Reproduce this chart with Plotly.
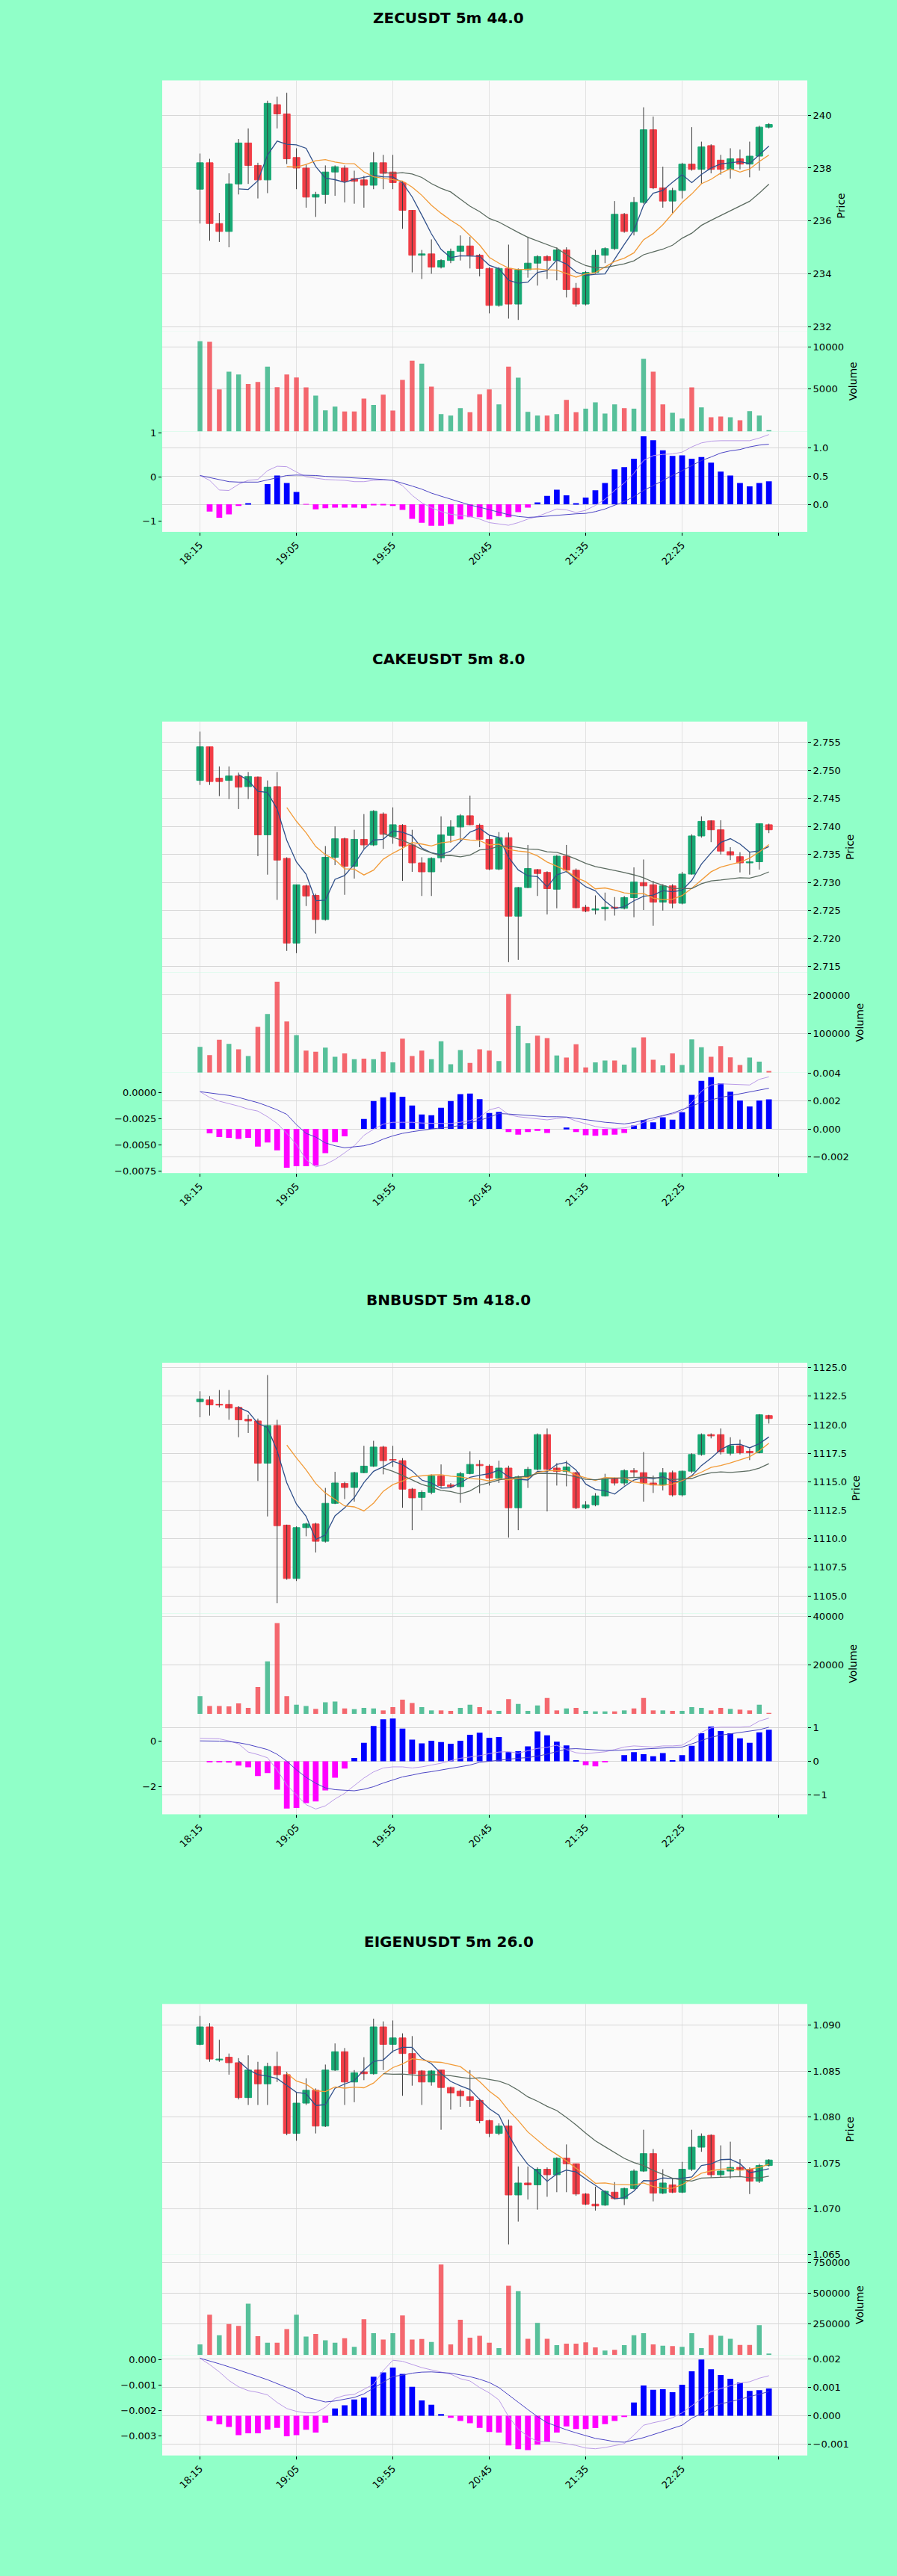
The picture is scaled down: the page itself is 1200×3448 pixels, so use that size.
import pandas as pd
import plotly.graph_objects as go

# 4 stacked mplfinance-like panels: candles + MA, volume, MACD

W, H = 1200, 3448
PANEL_H = 862

tick_pos = [0, 10, 20, 30, 40, 50, 60]
tick_text = ["18:15", "19:05", "19:55", "20:45", "21:35", "22:25", ""]

# ---------------- ZECUSDT ----------------
zec_open = [237.2, 238.2, 235.9, 235.6, 237.4, 238.95, 238.1, 237.55, 240.4, 240.05,
            238.4, 238.0, 236.9, 237.0, 237.85, 238.0, 237.6, 237.55, 237.35, 238.2,
            237.85, 237.45, 236.4, 234.7, 234.75, 234.25, 234.5, 234.85, 235.05, 234.7,
            234.2, 232.8, 234.2, 232.85, 234.15, 234.4, 234.65, 234.5, 234.9, 233.45,
            232.85, 234.05, 234.7, 234.95, 236.25, 235.6, 236.7, 239.45, 237.25, 236.75,
            237.15, 238.15, 237.95, 238.85, 238.3, 237.95, 238.35, 238.15, 238.45, 239.55]
zec_high = [238.55, 238.35, 236.3, 237.8, 239.1, 239.5, 238.2, 240.55, 240.7, 240.85,
            238.75, 238.15, 237.1, 238.1, 238.1, 238.1, 237.9, 237.7, 238.6, 238.5,
            238.5, 237.5, 236.4, 234.9, 235.3, 234.55, 234.95, 235.45, 235.4, 234.75,
            234.25, 234.25, 235.1, 234.2, 235.4, 234.7, 234.7, 235.0, 235.0, 233.65,
            234.1, 234.9, 235.0, 236.75, 236.3, 236.9, 240.3, 239.95, 238.05, 237.25,
            238.2, 239.55, 239.0, 238.9, 238.5, 238.75, 238.7, 239.0, 239.6, 239.7]
zec_low = [235.9, 235.25, 235.2, 235.0, 237.0, 237.4, 236.85, 237.05, 239.5, 238.15,
           237.2, 236.5, 236.15, 236.65, 236.95, 236.7, 236.65, 236.5, 237.2, 237.2,
           237.2, 235.7, 234.05, 233.8, 234.0, 234.2, 234.4, 234.5, 234.2, 233.9,
           232.5, 232.75, 232.3, 232.25, 233.85, 233.55, 233.8, 233.75, 233.1, 232.75,
           232.8, 234.0, 234.4, 234.9, 235.55, 235.45, 236.65, 237.2, 236.5, 236.3,
           236.85, 237.9, 237.4, 237.8, 237.75, 237.6, 237.95, 237.65, 237.9, 239.5]
zec_close = [238.2, 235.9, 235.6, 237.4, 238.95, 238.1, 237.55, 240.45, 240.05, 238.35,
             238.0, 236.9, 237.0, 237.85, 238.05, 237.5, 237.5, 237.35, 238.2, 237.8,
             237.45, 236.4, 234.7, 234.75, 234.25, 234.5, 234.85, 235.05, 234.7, 234.2,
             232.8, 234.2, 232.85, 234.15, 234.4, 234.65, 234.5, 234.9, 233.4, 232.85,
             234.05, 234.7, 234.95, 236.25, 235.6, 236.7, 239.45, 237.25, 236.75, 237.15,
             238.15, 237.95, 238.8, 237.95, 237.95, 238.35, 238.15, 238.45, 239.55, 239.65]
zec_vol = [10640, 10590, 4970, 7060, 6730, 5590, 5850, 7650, 5230, 6730,
           6380, 5200, 4230, 2500, 2940, 2350, 2350, 3880, 3120, 4350,
           2470, 6090, 8350, 8000, 5290, 2060, 1880, 2760, 2260, 4380,
           4970, 3200, 7650, 6350, 2320, 1880, 1880, 2060, 3730, 2260,
           2700, 3440, 2120, 3200, 2760, 2700, 8580, 7060, 3200, 2200,
           1530, 5200, 2850, 1680, 1760, 1680, 1320, 2410, 1880, 150]
zec_hist = [0, -0.13, -0.24, -0.18, -0.03, 0.01, 0.0, 0.36, 0.51, 0.38,
            0.22, -0.005, -0.09, -0.07, -0.06, -0.06, -0.06, -0.07, -0.02, -0.02,
            -0.03, -0.10, -0.26, -0.33, -0.38, -0.38, -0.35, -0.27, -0.23, -0.23,
            -0.27, -0.21, -0.23, -0.14, -0.06, 0.035, 0.15, 0.26, 0.16, 0.02,
            0.12, 0.25, 0.38, 0.62, 0.66, 0.81, 1.21, 1.14, 0.96, 0.86,
            0.87, 0.81, 0.84, 0.74, 0.58, 0.51, 0.38, 0.32, 0.38, 0.41]
zec_dif = [0.03, -0.08, -0.30, -0.31, -0.17, -0.08, -0.06, 0.14, 0.24, 0.23,
           0.11, 0.0, -0.03, -0.06, -0.07, -0.08, -0.11, -0.11, -0.08, -0.07,
           -0.08, -0.20, -0.42, -0.59, -0.70, -0.79, -0.85, -0.87, -0.90, -0.96,
           -1.04, -1.07, -1.10, -1.04, -0.96, -0.90, -0.82, -0.73, -0.75, -0.81,
           -0.76, -0.65, -0.51, -0.31, -0.14, 0.08, 0.37, 0.48, 0.51, 0.52,
           0.56, 0.68, 0.77, 0.81, 0.82, 0.82, 0.82, 0.82, 0.88, 0.96]
zec_dea = [0.03, -0.02, -0.07, -0.11, -0.12, -0.12, -0.12, -0.07, -0.02, 0.03,
           0.04, 0.04, 0.03, 0.01, 0.0, -0.01, -0.03, -0.04, -0.05, -0.06,
           -0.08, -0.14, -0.21, -0.28, -0.37, -0.44, -0.51, -0.58, -0.64, -0.69,
           -0.75, -0.81, -0.86, -0.90, -0.92, -0.91, -0.89, -0.87, -0.86, -0.84,
           -0.83, -0.79, -0.73, -0.65, -0.56, -0.45, -0.31, -0.20, -0.08, 0.03,
           0.14, 0.25, 0.37, 0.45, 0.54, 0.59, 0.62, 0.68, 0.72, 0.74]

# ---------------- CAKEUSDT ----------------
cake_open = [2.7482, 2.7542, 2.7486, 2.7482, 2.7490, 2.7471, 2.7488, 2.7385, 2.7471, 2.7343,
             2.7192, 2.7294, 2.7277, 2.7234, 2.7345, 2.7378, 2.7329, 2.7377, 2.7367, 2.7422,
             2.7382, 2.7402, 2.7367, 2.7335, 2.7319, 2.7344, 2.7384, 2.7399, 2.7419, 2.7402,
             2.7377, 2.7324, 2.7380, 2.7240, 2.7291, 2.7323, 2.7318, 2.7288, 2.7347, 2.7322,
             2.7256, 2.7251, 2.7253, 2.7256, 2.7254, 2.7273, 2.7300, 2.7296, 2.7265, 2.7294,
             2.7263, 2.7315, 2.7383, 2.7410, 2.7394, 2.7355, 2.7346, 2.7335, 2.7337, 2.7403]
cake_high = [2.7569, 2.7542, 2.7507, 2.7507, 2.7496, 2.7497, 2.7489, 2.7482, 2.7497, 2.7345,
             2.7296, 2.7296, 2.7280, 2.7365, 2.7400, 2.7380, 2.7394, 2.7422, 2.7429, 2.7425,
             2.7434, 2.7404, 2.7394, 2.7345, 2.7345, 2.7418, 2.7411, 2.7422, 2.7455, 2.7405,
             2.7385, 2.7390, 2.7389, 2.7292, 2.7367, 2.7324, 2.7320, 2.7349, 2.7367, 2.7325,
             2.7260, 2.7277, 2.7282, 2.7274, 2.7276, 2.7327, 2.7341, 2.7303, 2.7297, 2.7297,
             2.7319, 2.7386, 2.7418, 2.7411, 2.7411, 2.7363, 2.7354, 2.7354, 2.7405, 2.7405]
cake_low = [2.7474, 2.7474, 2.7454, 2.7449, 2.7431, 2.7449, 2.7347, 2.7314, 2.7269, 2.7178,
            2.7174, 2.7258, 2.7209, 2.7232, 2.7331, 2.7278, 2.7307, 2.7360, 2.7365, 2.7360,
            2.7369, 2.7303, 2.7319, 2.7276, 2.7276, 2.7336, 2.7371, 2.7374, 2.7402, 2.7363,
            2.7322, 2.7322, 2.7158, 2.7162, 2.7290, 2.7276, 2.7243, 2.7254, 2.7318, 2.7254,
            2.7247, 2.7243, 2.7232, 2.7241, 2.7252, 2.7238, 2.7251, 2.7223, 2.7250, 2.7254,
            2.7261, 2.7314, 2.7380, 2.7372, 2.7350, 2.7340, 2.7318, 2.7314, 2.7323, 2.7388]
cake_close = [2.7542, 2.7480, 2.7480, 2.7490, 2.7470, 2.7489, 2.7385, 2.7470, 2.7340, 2.7192,
              2.7296, 2.7276, 2.7234, 2.7345, 2.7378, 2.7329, 2.7377, 2.7367, 2.7427, 2.7386,
              2.7403, 2.7365, 2.7335, 2.7319, 2.7343, 2.7385, 2.7399, 2.7419, 2.7403, 2.7377,
              2.7324, 2.7380, 2.7240, 2.7291, 2.7325, 2.7316, 2.7289, 2.7347, 2.7322, 2.7255,
              2.7249, 2.7253, 2.7256, 2.7254, 2.7273, 2.7301, 2.7294, 2.7265, 2.7294, 2.7263,
              2.7315, 2.7383, 2.7409, 2.7394, 2.7356, 2.7349, 2.7335, 2.7337, 2.7405, 2.7394]
cake_vol = [66700, 45500, 84600, 74400, 60300, 43000, 118000, 151300, 234600, 132000,
            96800, 57000, 53800, 64700, 41000, 49400, 34600, 35900, 34600, 53800,
            26300, 87800, 43000, 57000, 34600, 80800, 21800, 58300, 25000, 60300,
            57000, 30100, 202600, 121100, 76300, 95500, 89100, 44200, 39100, 73100,
            13500, 26300, 31400, 31400, 20500, 64700, 91000, 33300, 18600, 49400,
            19900, 85900, 65400, 41000, 68600, 39700, 19900, 39100, 28200, 4500]
cake_hist = [0, -0.00032, -0.00059, -0.00064, -0.00073, -0.00064, -0.00127, -0.00098, -0.00154, -0.00279,
             -0.00268, -0.00268, -0.00264, -0.00175, -0.00095, -0.00054, 0.0, 0.00071, 0.00200, 0.00227,
             0.00263, 0.00232, 0.00168, 0.00104, 0.00098, 0.00152, 0.00200, 0.00250, 0.00254, 0.00214,
             0.00114, 0.00123, -0.00023, -0.00041, -0.00023, -0.00014, -0.00029, 0.0, 0.0001, -0.00023,
             -0.00046, -0.00050, -0.00046, -0.00041, -0.00029, 0.00025, 0.00063, 0.00048, 0.00084, 0.00066,
             0.00120, 0.00245, 0.00346, 0.00373, 0.00329, 0.00268, 0.00205, 0.00161, 0.00205, 0.00213]
cake_dif = [0.0001, -0.00045, -0.00081, -0.00104, -0.00128, -0.00157, -0.00176, -0.0023, -0.00294, -0.00389,
            -0.00496, -0.00639, -0.0071, -0.00686, -0.00639, -0.00575, -0.00508, -0.00408, -0.00349, -0.00301,
            -0.00283, -0.00283, -0.00283, -0.0029, -0.00294, -0.00294, -0.00294, -0.00283, -0.00266, -0.00235,
            -0.00164, -0.0014, -0.0021, -0.0023, -0.0024, -0.0025, -0.0026, -0.00247, -0.00235, -0.00271,
            -0.00299, -0.00323, -0.00337, -0.00342, -0.00337, -0.00318, -0.00283, -0.00259, -0.00223, -0.00204,
            -0.00176, -0.00093, 0.00014, 0.00074, 0.00085, 0.00081, 0.00074, 0.00074, 0.00128, 0.00152]
cake_dea = [0.0001, -0.00002, -0.00014, -0.00026, -0.00045, -0.00069, -0.00095, -0.00128, -0.00164, -0.00207,
            -0.00306, -0.00389, -0.00425, -0.0048, -0.00508, -0.00527, -0.00515, -0.00508, -0.00484, -0.00444,
            -0.00413, -0.00389, -0.00373, -0.00358, -0.00347, -0.00337, -0.00328, -0.00313, -0.0029, -0.00264,
            -0.00235, -0.00199, -0.00204, -0.00211, -0.00218, -0.00228, -0.0023, -0.0023, -0.00233, -0.00245,
            -0.00259, -0.00271, -0.00283, -0.0029, -0.00299, -0.00285, -0.00264, -0.00242, -0.00218, -0.00195,
            -0.00164, -0.00128, -0.00093, -0.00069, -0.00045, -0.00028, -0.0001, 0.00007, 0.00026, 0.00043]

# ---------------- BNBUSDT ----------------
bnb_open = [1122.02, 1122.17, 1121.8, 1121.78, 1121.52, 1120.48, 1120.33, 1116.63, 1119.93, 1111.2,
            1106.52, 1110.98, 1111.3, 1109.78, 1113.11, 1114.85, 1114.5, 1115.8, 1116.37, 1118.04,
            1116.95, 1116.85, 1114.35, 1113.63, 1114.07, 1115.5, 1114.72, 1114.57, 1115.72, 1116.52,
            1116.37, 1115.33, 1116.2, 1112.72, 1115.43, 1116.09, 1119.13, 1116.2, 1115.9, 1115.8,
            1112.72, 1112.98, 1113.76, 1115.28, 1114.89, 1115.98, 1115.8, 1114.89, 1114.72, 1115.8,
            1113.85, 1115.93, 1117.39, 1119.13, 1119.13, 1117.5, 1118.15, 1117.67, 1117.54, 1120.8]
bnb_high = [1122.93, 1122.5, 1123.04, 1123.04, 1121.63, 1120.87, 1120.54, 1124.35, 1120.43, 1111.24,
            1111.09, 1111.41, 1111.41, 1114.46, 1115.87, 1115.0, 1115.87, 1118.15, 1118.59, 1118.15,
            1118.15, 1117.07, 1114.46, 1114.24, 1115.65, 1116.52, 1114.89, 1115.87, 1117.67, 1116.9,
            1116.52, 1116.85, 1116.41, 1115.54, 1116.3, 1119.24, 1119.67, 1116.63, 1116.85, 1115.87,
            1113.3, 1114.0, 1115.7, 1115.37, 1116.09, 1116.2, 1117.6, 1115.54, 1116.2, 1115.98,
            1115.98, 1117.5, 1119.24, 1119.24, 1119.67, 1118.9, 1118.7, 1117.9, 1120.93, 1120.87]
bnb_low = [1120.65, 1120.8, 1121.52, 1120.43, 1118.9, 1119.28, 1115.07, 1111.96, 1104.35, 1106.41,
           1106.3, 1110.22, 1108.8, 1109.67, 1113.04, 1113.48, 1113.26, 1115.76, 1116.3, 1115.65,
           1116.3, 1112.72, 1110.76, 1112.5, 1113.9, 1114.46, 1114.46, 1113.15, 1115.65, 1114.0,
           1114.67, 1114.89, 1110.11, 1110.76, 1114.46, 1116.0, 1112.4, 1114.67, 1114.6, 1112.6,
           1112.6, 1112.85, 1113.7, 1114.67, 1114.67, 1115.4, 1113.26, 1114.02, 1114.24, 1113.7,
           1113.7, 1115.76, 1117.28, 1118.8, 1117.39, 1117.3, 1117.4, 1116.9, 1117.5, 1120.1]
bnb_close = [1122.24, 1121.74, 1121.72, 1121.46, 1120.43, 1120.33, 1116.63, 1119.93, 1111.15, 1106.52,
             1110.98, 1111.3, 1109.78, 1113.11, 1114.89, 1114.5, 1115.8, 1116.37, 1118.04, 1116.85,
             1116.9, 1114.35, 1113.59, 1114.07, 1115.5, 1114.67, 1114.57, 1115.72, 1116.52, 1116.41,
             1115.33, 1116.2, 1112.72, 1115.43, 1116.09, 1119.13, 1116.09, 1115.9, 1116.3, 1112.72,
             1112.98, 1113.76, 1115.28, 1114.89, 1115.98, 1115.85, 1114.89, 1114.72, 1115.8, 1113.85,
             1115.93, 1117.39, 1119.13, 1119.02, 1117.61, 1118.15, 1117.54, 1117.54, 1120.87, 1120.54]
bnb_vol = [7300, 3250, 3250, 3050, 4260, 2440, 11060, 21520, 37250, 7300,
           3750, 3250, 2030, 4770, 5080, 2230, 1930, 2440, 2230, 1420,
           2740, 5790, 4470, 2740, 1420, 1420, 1220, 2440, 3750, 2740,
           1420, 1220, 6090, 4060, 1220, 3450, 6500, 1420, 2230, 2440,
           1220, 1020, 1020, 1020, 1420, 2230, 6500, 1420, 1420, 1220,
           1220, 2740, 2440, 1420, 2440, 2030, 1730, 1420, 3750, 400]
bnb_hist = [0, -0.03, -0.03, -0.04, -0.13, -0.18, -0.44, -0.35, -0.85, -1.41,
            -1.39, -1.25, -1.20, -0.87, -0.49, -0.22, 0.10, 0.55, 1.05, 1.25,
            1.27, 0.97, 0.64, 0.53, 0.61, 0.57, 0.52, 0.61, 0.79, 0.85,
            0.70, 0.72, 0.27, 0.30, 0.44, 0.89, 0.77, 0.58, 0.47, 0.01,
            -0.12, -0.15, -0.03, 0.0, 0.18, 0.27, 0.21, 0.15, 0.24, 0.03,
            0.18, 0.46, 0.83, 1.03, 0.90, 0.83, 0.68, 0.55, 0.86, 0.94]
bnb_dif = [0.12, 0.12, 0.10, 0.01, -0.12, -0.48, -0.59, -0.73, -1.27, -1.92,
           -2.36, -2.79, -2.98, -2.84, -2.54, -2.29, -1.95, -1.62, -1.35, -1.18,
           -1.13, -1.13, -1.18, -1.13, -1.05, -0.97, -0.86, -0.75, -0.70, -0.64,
           -0.55, -0.48, -0.46, -0.53, -0.42, -0.32, -0.27, -0.18, -0.37, -0.51,
           -0.55, -0.51, -0.47, -0.37, -0.26, -0.21, -0.24, -0.26, -0.21, -0.21,
           -0.18, 0.07, 0.39, 0.58, 0.61, 0.61, 0.61, 0.64, 0.88, 1.01]
bnb_dea = [0.01, 0.01, 0.0, -0.02, -0.07, -0.15, -0.26, -0.37, -0.58, -0.88,
           -1.26, -1.59, -1.85, -2.05, -2.13, -2.16, -2.18, -2.11, -2.0, -1.84,
           -1.70, -1.57, -1.49, -1.40, -1.34, -1.27, -1.21, -1.13, -1.05, -0.93,
           -0.88, -0.83, -0.79, -0.75, -0.72, -0.66, -0.57, -0.47, -0.35, -0.33,
           -0.36, -0.38, -0.41, -0.41, -0.39, -0.37, -0.35, -0.32, -0.30, -0.29,
           -0.26, -0.12, 0.03, 0.17, 0.26, 0.32, 0.37, 0.42, 0.50, 0.61]

# ---------------- EIGENUSDT ----------------
eigen_open = [1.0879, 1.0898, 1.0862, 1.0865, 1.0859, 1.0821, 1.0851, 1.0836, 1.0855, 1.0846,
              1.0782, 1.0815, 1.0829, 1.0790, 1.0851, 1.0871, 1.0838, 1.0849, 1.0847, 1.0898,
              1.0879, 1.0886, 1.0869, 1.0850, 1.0838, 1.0851, 1.0832, 1.0828, 1.0822, 1.0818,
              1.0796, 1.0782, 1.0790, 1.0715, 1.0728, 1.0726, 1.0743, 1.0737, 1.0755, 1.0749,
              1.0716, 1.0705, 1.0704, 1.0718, 1.0711, 1.0722, 1.0741, 1.0760, 1.0717, 1.0726,
              1.0718, 1.0743, 1.0767, 1.0780, 1.0737, 1.0741, 1.0745, 1.0743, 1.0730, 1.0747]
eigen_high = [1.0910, 1.0902, 1.0884, 1.0869, 1.0864, 1.0867, 1.0860, 1.0859, 1.0871, 1.0849,
              1.0827, 1.0842, 1.0831, 1.0857, 1.0880, 1.0875, 1.0851, 1.0865, 1.0907, 1.0904,
              1.0905, 1.0891, 1.0888, 1.0851, 1.0851, 1.0851, 1.0833, 1.0830, 1.0851, 1.0820,
              1.0797, 1.0793, 1.0797, 1.0746, 1.0746, 1.0745, 1.0745, 1.0756, 1.0770, 1.0749,
              1.0717, 1.0724, 1.0720, 1.0729, 1.0723, 1.0743, 1.0786, 1.0765, 1.0743, 1.0733,
              1.0751, 1.0786, 1.0782, 1.0781, 1.0769, 1.0773, 1.0754, 1.0745, 1.0749, 1.0754]
eigen_low = [1.0878, 1.0860, 1.0860, 1.0846, 1.0819, 1.0813, 1.0813, 1.0813, 1.0838, 1.0780,
             1.0774, 1.0813, 1.0782, 1.0789, 1.0850, 1.0813, 1.0816, 1.0840, 1.0846, 1.0851,
             1.0870, 1.0823, 1.0834, 1.0813, 1.0834, 1.0786, 1.0808, 1.0811, 1.0811, 1.0793,
             1.0778, 1.0780, 1.0661, 1.0686, 1.0710, 1.0699, 1.0713, 1.0718, 1.0718, 1.0714,
             1.0704, 1.0698, 1.0703, 1.0710, 1.0704, 1.0721, 1.0740, 1.0708, 1.0716, 1.0717,
             1.0717, 1.0741, 1.0762, 1.0734, 1.0734, 1.0733, 1.0735, 1.0716, 1.0728, 1.0746]
eigen_close = [1.0898, 1.0863, 1.0863, 1.0859, 1.0821, 1.0851, 1.0836, 1.0855, 1.0846, 1.0782,
               1.0815, 1.0829, 1.0790, 1.0851, 1.0871, 1.0838, 1.0848, 1.0847, 1.0898, 1.0879,
               1.0886, 1.0869, 1.0847, 1.0838, 1.0850, 1.0832, 1.0826, 1.0823, 1.0818, 1.0796,
               1.0782, 1.0790, 1.0715, 1.0728, 1.0726, 1.0743, 1.0737, 1.0755, 1.0749, 1.0716,
               1.0705, 1.0703, 1.0719, 1.0711, 1.0722, 1.0741, 1.0760, 1.0717, 1.0728, 1.0718,
               1.0743, 1.0767, 1.0779, 1.0737, 1.0741, 1.0745, 1.0743, 1.0730, 1.0747, 1.0753]
eigen_vol = [86000, 326000, 160000, 250000, 236000, 416000, 152000, 100000, 100000, 210000,
             326000, 150000, 170000, 120000, 100000, 136000, 66000, 290000, 176000, 126000,
             176000, 320000, 126000, 130000, 106000, 732000, 86000, 286000, 140000, 156000,
             100000, 56000, 560000, 516000, 132000, 260000, 132000, 80000, 92000, 92000,
             102000, 62000, 36000, 42000, 80000, 160000, 176000, 86000, 76000, 72000,
             66000, 176000, 56000, 162000, 156000, 132000, 82000, 82000, 242000, 12000]
eigen_hist = [0, -0.18e-3, -0.30e-3, -0.39e-3, -0.68e-3, -0.61e-3, -0.61e-3, -0.48e-3, -0.42e-3, -0.72e-3,
              -0.68e-3, -0.49e-3, -0.59e-3, -0.24e-3, 0.26e-3, 0.37e-3, 0.57e-3, 0.64e-3, 1.37e-3, 1.52e-3,
              1.69e-3, 1.47e-3, 1.02e-3, 0.54e-3, 0.39e-3, 0.06e-3, -0.07e-3, -0.18e-3, -0.26e-3, -0.42e-3,
              -0.57e-3, -0.59e-3, -1.04e-3, -1.17e-3, -1.20e-3, -1.01e-3, -0.90e-3, -0.59e-3, -0.37e-3, -0.46e-3,
              -0.46e-3, -0.43e-3, -0.29e-3, -0.18e-3, -0.03e-3, 0.47e-3, 1.06e-3, 0.91e-3, 0.93e-3, 0.83e-3,
              1.09e-3, 1.56e-3, 1.97e-3, 1.63e-3, 1.43e-3, 1.30e-3, 1.17e-3, 0.87e-3, 0.90e-3, 0.96e-3]
eigen_dif = [0.07e-3, -0.18e-3, -0.47e-3, -0.81e-3, -1.06e-3, -1.21e-3, -1.28e-3, -1.38e-3, -1.68e-3, -1.92e-3,
             -2.03e-3, -2.09e-3, -2.09e-3, -1.87e-3, -1.52e-3, -1.40e-3, -1.36e-3, -1.16e-3, -0.96e-3, -0.42e-3,
             -0.01e-3, -0.05e-3, -0.18e-3, -0.30e-3, -0.39e-3, -0.47e-3, -0.56e-3, -0.74e-3, -0.83e-3, -1.09e-3,
             -1.30e-3, -1.58e-3, -2.24e-3, -2.73e-3, -3.02e-3, -3.22e-3, -3.24e-3, -3.25e-3, -3.31e-3, -3.38e-3,
             -3.48e-3, -3.51e-3, -3.46e-3, -3.38e-3, -3.31e-3, -2.97e-3, -2.58e-3, -2.48e-3, -2.40e-3, -2.28e-3,
             -2.09e-3, -1.81e-3, -1.52e-3, -1.25e-3, -1.13e-3, -1.01e-3, -0.91e-3, -0.86e-3, -0.72e-3, -0.62e-3]
eigen_dea = [0.07e-3, -0.03e-3, -0.15e-3, -0.27e-3, -0.39e-3, -0.52e-3, -0.65e-3, -0.78e-3, -0.93e-3, -1.08e-3,
             -1.24e-3, -1.47e-3, -1.57e-3, -1.66e-3, -1.62e-3, -1.55e-3, -1.48e-3, -1.34e-3, -1.12e-3, -0.88e-3,
             -0.65e-3, -0.60e-3, -0.52e-3, -0.48e-3, -0.47e-3, -0.49e-3, -0.52e-3, -0.59e-3, -0.66e-3, -0.76e-3,
             -0.89e-3, -1.09e-3, -1.37e-3, -1.67e-3, -1.96e-3, -2.24e-3, -2.48e-3, -2.63e-3, -2.76e-3, -2.88e-3,
             -3.00e-3, -3.10e-3, -3.16e-3, -3.23e-3, -3.25e-3, -3.16e-3, -3.07e-3, -2.95e-3, -2.83e-3, -2.72e-3,
             -2.58e-3, -2.30e-3, -2.12e-3, -1.89e-3, -1.73e-3, -1.65e-3, -1.55e-3, -1.45e-3, -1.35e-3, -1.25e-3]

# tick labels of each panel
zec_price_ticks = [232, 234, 236, 238, 240]
cake_price_ticks = [2.715, 2.720, 2.725, 2.730, 2.735, 2.740, 2.745, 2.750, 2.755]
bnb_price_ticks = [1105.0, 1107.5, 1110.0, 1112.5, 1115.0, 1117.5, 1120.0, 1122.5, 1125.0]
eigen_price_ticks = [1.065, 1.070, 1.075, 1.080, 1.085, 1.090]

panels = [
    dict(title="ZECUSDT 5m 44.0", o=zec_open, h=zec_high, l=zec_low, c=zec_close, v=zec_vol,
         hist=zec_hist, dif=zec_dif, dea=zec_dea,
         p_rng=[231.83, 241.32], p_ticks=zec_price_ticks, p_fmt="d",
         v_rng=[0, 11850], v_ticks=[5000, 10000],
         h_rng=[-0.49, 1.295], h_ticks=[0, 0.5, 1.0], h_fmt=".1f",
         m_rng=[-1.25, 1.03], m_ticks=[-1, 0, 1], m_fmt="d"),
    dict(title="CAKEUSDT 5m 8.0", o=cake_open, h=cake_high, l=cake_low, c=cake_close, v=cake_vol,
         hist=cake_hist, dif=cake_dif, dea=cake_dea,
         p_rng=[2.7140, 2.7587], p_ticks=cake_price_ticks, p_fmt=".3f",
         v_rng=[0, 259000], v_ticks=[100000, 200000],
         h_rng=[-0.00318, 0.00405], h_ticks=[-0.002, 0, 0.002, 0.004], h_fmt=".3f",
         m_rng=[-0.00769, 0.00192], m_ticks=[-0.0075, -0.005, -0.0025, 0], m_fmt=".4f"),
    dict(title="BNBUSDT 5m 418.0", o=bnb_open, h=bnb_high, l=bnb_low, c=bnb_close, v=bnb_vol,
         hist=bnb_hist, dif=bnb_dif, dea=bnb_dea,
         p_rng=[1103.46, 1125.43], p_ticks=bnb_price_ticks, p_fmt=".1f",
         v_rng=[0, 41200], v_ticks=[20000, 40000],
         h_rng=[-1.58, 1.41], h_ticks=[-1, 0, 1], h_fmt="d",
         m_rng=[-3.21, 1.196], m_ticks=[-2, 0], m_fmt="d"),
    dict(title="EIGENUSDT 5m 26.0", o=eigen_open, h=eigen_high, l=eigen_low, c=eigen_close, v=eigen_vol,
         hist=eigen_hist, dif=eigen_dif, dea=eigen_dea,
         p_rng=[1.0650, 1.0923], p_ticks=eigen_price_ticks, p_fmt=".3f",
         v_rng=[0, 812000], v_ticks=[250000, 500000, 750000],
         h_rng=[-0.00139, 0.00213], h_ticks=[-0.001, 0, 0.001, 0.002], h_fmt=".3f",
         m_rng=[-0.003775, 0.000196], m_ticks=[-0.003, -0.002, -0.001, 0], m_fmt=".3f"),
]

BG = "#90ffc8"
UP = "#17a974"
DOWN = "#f23d46"
UP_VOL = "rgba(23,169,116,0.72)"
DOWN_VOL = "rgba(242,61,70,0.78)"
MA_COLORS = {5: "#30508a", 10: "#f29b38", 20: "#5b6b60"}
GRID = "#d6d6d6"
FONT = "DejaVu Sans"

fig = go.Figure()
layout = dict(width=W, height=H, margin=dict(l=0, r=0, t=0, b=0),
              paper_bgcolor=BG, plot_bgcolor="#fafafa",
              showlegend=False, barmode="overlay",
              font=dict(family=FONT, size=13, color="#000000"))
annotations = []


def ypaper(px):
    return 1 - px / H


def name(prefix, k):
    return prefix if k == 1 else f"{prefix}{k}"


for p, cfg in enumerate(panels):
    top = p * PANEL_H
    n = len(cfg["c"])
    idx = list(range(n))
    xk = p + 1
    yk = [4 * p + 1, 4 * p + 2, 4 * p + 3, 4 * p + 4]
    xs = name("x", xk)
    ys = [name("y", k) for k in yk]

    up = [c >= o for o, c in zip(cfg["o"], cfg["c"])]
    body_col = [UP if u else DOWN for u in up]
    vol_col = [UP_VOL if u else DOWN_VOL for u in up]
    eps = (cfg["p_rng"][1] - cfg["p_rng"][0]) * 0.002

    # wicks
    wx, wy = [], []
    for i in idx:
        wx += [i, i, None]
        wy += [cfg["l"][i], cfg["h"][i], None]
    fig.add_trace(go.Scatter(x=wx, y=wy, mode="lines", line=dict(color="#3a3a3a", width=1),
                             xaxis=xs, yaxis=ys[0], hoverinfo="skip"))
    # bodies
    fig.add_trace(go.Bar(x=idx, y=[max(abs(c - o), eps) for o, c in zip(cfg["o"], cfg["c"])],
                         base=[min(o, c) for o, c in zip(cfg["o"], cfg["c"])],
                         width=0.7, marker=dict(color=body_col, line=dict(color=body_col, width=1)),
                         xaxis=xs, yaxis=ys[0]))
    # moving averages
    close_s = pd.Series(cfg["c"])
    for w, col in MA_COLORS.items():
        fig.add_trace(go.Scatter(x=idx, y=close_s.rolling(w).mean(), mode="lines",
                                 line=dict(color=col, width=1.3), xaxis=xs, yaxis=ys[0]))
    # volume
    fig.add_trace(go.Bar(x=idx, y=cfg["v"], width=0.5, marker=dict(color=vol_col, line=dict(width=0)),
                         xaxis=xs, yaxis=ys[1]))
    # macd histogram
    hist_col = ["#0000ff" if v >= 0 else "#ff00ff" for v in cfg["hist"]]
    fig.add_trace(go.Bar(x=idx, y=cfg["hist"], width=0.6, marker=dict(color=hist_col, line=dict(width=0)),
                         xaxis=xs, yaxis=ys[2]))
    # macd lines
    fig.add_trace(go.Scatter(x=idx, y=cfg["dif"], mode="lines", line=dict(color="#b99ae6", width=1),
                             xaxis=xs, yaxis=ys[3]))
    fig.add_trace(go.Scatter(x=idx, y=cfg["dea"], mode="lines", line=dict(color="#4b44c4", width=1),
                             xaxis=xs, yaxis=ys[3]))

    tick_common = dict(ticks="outside", ticklen=4, tickcolor="#000000", tickfont=dict(size=13),
                       showline=False, zeroline=False)

    layout[name("xaxis", xk)] = dict(domain=[217 / W, 1080 / W], anchor=ys[2], range=[-3.92, 62.98],
                                     tickvals=tick_pos, ticktext=tick_text, tickangle=-45,
                                     showgrid=True, gridcolor="#e2e2e2", gridwidth=1, **tick_common)
    layout[name("yaxis", yk[0])] = dict(domain=[ypaper(top + 438), ypaper(top + 101)], anchor=xs,
                                        side="right", range=cfg["p_rng"], tickvals=cfg["p_ticks"],
                                        tickformat=cfg["p_fmt"], showgrid=True, gridcolor=GRID,
                                        title=dict(text="Price", font=dict(size=14), standoff=8),
                                        **tick_common)
    layout[name("yaxis", yk[1])] = dict(domain=[ypaper(top + 573), ypaper(top + 438)], anchor=xs,
                                        side="right", range=cfg["v_rng"], tickvals=cfg["v_ticks"],
                                        tickformat="d", showgrid=True, gridcolor=GRID,
                                        title=dict(text="Volume", font=dict(size=14), standoff=8),
                                        **tick_common)
    layout[name("yaxis", yk[2])] = dict(domain=[ypaper(top + 708), ypaper(top + 573)], anchor=xs,
                                        side="right", range=cfg["h_rng"], tickvals=cfg["h_ticks"],
                                        tickformat=cfg["h_fmt"], showgrid=True, gridcolor=GRID,
                                        **tick_common)
    layout[name("yaxis", yk[3])] = dict(anchor=xs, overlaying=ys[2], side="left", range=cfg["m_rng"],
                                        tickvals=cfg["m_ticks"], tickformat=cfg["m_fmt"], showgrid=False,
                                        **tick_common)

    annotations.append(dict(text="<b>" + cfg["title"] + "</b>", x=0.5, y=ypaper(top + 17),
                            xref="paper", yref="paper", xanchor="center", yanchor="middle",
                            showarrow=False, font=dict(family=FONT, size=20, color="#000000")))

layout["annotations"] = annotations
fig.update_layout(**layout)

# drop the browser's default page margin so the figure fills the window
page_fix = "document.body.style.margin='0';document.body.style.background='" + BG + "';"
fig.write_html("out.html", post_script=page_fix, config={"displayModeBar": False})
